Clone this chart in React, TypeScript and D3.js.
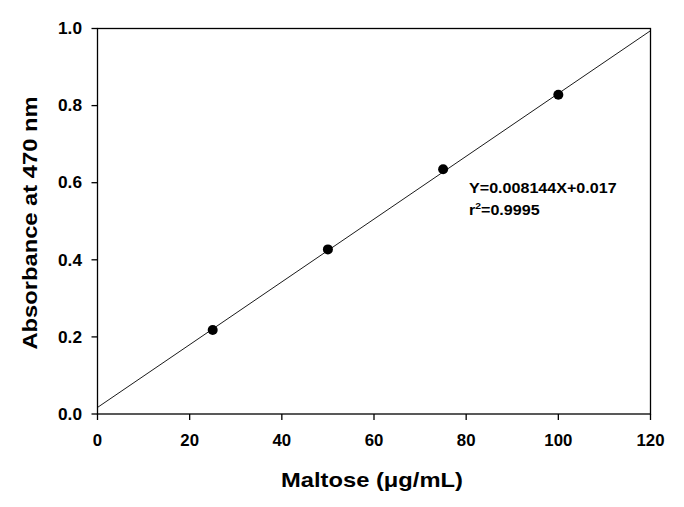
import * as d3 from 'd3';

// ── Layout ────────────────────────────────────────────────────────────────────
const M = { left: 97.5, top: 28.5, right: 650.5, bottom: 414 };

// ── Data ──────────────────────────────────────────────────────────────────────
const MALTOSE = [25, 50, 75, 100];
const ABSORBANCE = [0.218, 0.427, 0.635, 0.828];
const SLOPE = 0.008144;
const INTERCEPT = 0.017;
const X_TICKS = [0, 20, 40, 60, 80, 100, 120];
const Y_TICKS = [0, 0.2, 0.4, 0.6, 0.8, 1.0];

const FONT = 'Arial, "Liberation Sans", sans-serif';

export default function App() {
  const x = d3.scaleLinear().domain([0, 120]).range([M.left, M.right]);
  const y = d3.scaleLinear().domain([0, 1]).range([M.bottom, M.top]);

  const fit = d3.line<number>()
    .x(d => x(d))
    .y(d => y(SLOPE * d + INTERCEPT));

  return (
    <svg width={684} height={507} style={{ position: 'absolute', left: 0, top: 0 }}>
      <rect width={684} height={507} fill="#fff" />

      {/* frame */}
      <rect
        x={M.left} y={M.top}
        width={M.right - M.left} height={M.bottom - M.top}
        fill="none" stroke="#000" strokeWidth={1.3}
      />

      {/* y ticks */}
      {Y_TICKS.map(v => (
        <g key={v}>
          <line x1={M.left - 6} x2={M.left} y1={y(v)} y2={y(v)} stroke="#000" strokeWidth={1.3} />
          <text
            transform={`translate(82,${y(v)}) scale(1.08,1)`} dy="0.36em"
            textAnchor="end" fontSize={16} fontWeight={700} fontFamily={FONT}
          >
            {v.toFixed(1)}
          </text>
        </g>
      ))}

      {/* x ticks */}
      {X_TICKS.map(v => (
        <g key={v}>
          <line x1={x(v)} x2={x(v)} y1={M.bottom} y2={M.bottom + 6} stroke="#000" strokeWidth={1.3} />
          <text
            transform={`translate(${x(v)},446) scale(1.05,1)`}
            textAnchor="middle" fontSize={16} fontWeight={700} fontFamily={FONT}
          >
            {v}
          </text>
        </g>
      ))}

      {/* regression line */}
      <path d={fit([0, 120]) ?? ''} fill="none" stroke="#000" strokeWidth={0.9} />

      {/* points */}
      {MALTOSE.map((m, i) => (
        <circle key={m} cx={x(m)} cy={y(ABSORBANCE[i])} r={5} fill="#000" />
      ))}

      {/* equation */}
      <g transform="translate(469,0) scale(1.15,1)">
        <text x={0} y={193} fontSize={14} fontWeight={700} fontFamily={FONT}>
          Y=0.008144X+0.017
        </text>
        <text x={0} y={215} fontSize={14} fontWeight={700} fontFamily={FONT}>
          r<tspan fontSize={9} dy={-6}>2</tspan><tspan dy={6}>=0.9995</tspan>
        </text>
      </g>

      {/* axis titles */}
      <text
        transform="translate(372,487) scale(1.13,1)"
        textAnchor="middle" fontSize={21} fontWeight={700} fontFamily={FONT}
      >
        Maltose (μg/mL)
      </text>
      <text
        transform="translate(37,223) rotate(-90) scale(1.13,1)"
        textAnchor="middle" fontSize={21} fontWeight={700} fontFamily={FONT}
      >
        Absorbance at 470 nm
      </text>
    </svg>
  );
}
